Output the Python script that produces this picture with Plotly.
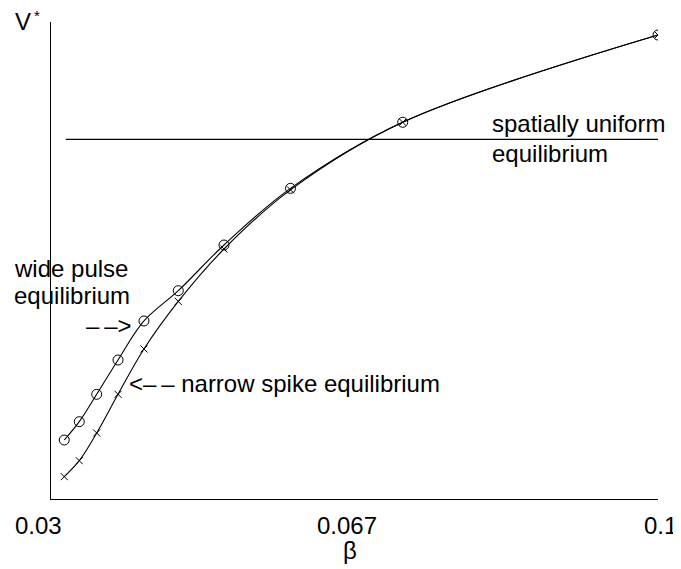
import plotly.graph_objects as go

# beta values of the computed equilibria
beta = [0.03153, 0.03326, 0.03527, 0.03773, 0.04072, 0.04468, 0.04995, 0.05762, 0.07056, 0.1]
# V* of wide pulse equilibrium (circles)
v_wide = [0.1237, 0.1621, 0.2195, 0.2914, 0.3732, 0.4367, 0.5325, 0.6513, 0.7898, 0.9727]
# V* of narrow spike equilibrium (crosses)
v_spike = [0.0468, 0.0803, 0.1384, 0.2195, 0.3145, 0.4143, 0.5241, 0.6480, 0.7898, 0.9727]
# spatially uniform equilibrium level
uniform_beta = [0.0317, 0.1]
uniform_v = [0.754, 0.754]

tick_labels = ["0.03", "0.067", "0.1"]

FONT = "Liberation Sans, Arial, sans-serif"
FS = 24

fig = go.Figure()
fig.add_trace(go.Scatter(x=uniform_beta, y=uniform_v, mode="lines",
                         line=dict(color="black", width=1.2), showlegend=False))
fig.add_trace(go.Scatter(x=beta, y=v_wide, mode="lines+markers",
                         line=dict(color="black", width=1.1, shape="spline", smoothing=1),
                         marker=dict(symbol="circle-open", size=10, color="black", line=dict(width=1)),
                         showlegend=False))
fig.add_trace(go.Scatter(x=beta, y=v_spike, mode="lines+markers",
                         line=dict(color="black", width=1.1, shape="spline", smoothing=1),
                         marker=dict(symbol="x-thin", size=7, color="black", line=dict(width=1, color="black")),
                         showlegend=False))

OFF = 8  # page body margin
W, H = 681 - OFF, 569 - OFF
# plot area in page pixels: left 51, right 658, top 22, bottom 499
L, R, T, B = 51 - OFF, 681 - 658, 22 - OFF, 569 - 499
pw, ph = W - L - R, H - T - B

def px(x):
    return (x - OFF - L) / pw

def py(y):
    return (H - B - (y - OFF)) / ph

def label(text, x, y, xanchor="left", size=FS):
    return dict(text=text, x=px(x), y=py(y), xref="paper", yref="paper",
                xanchor=xanchor, yanchor="middle", showarrow=False,
                font=dict(size=size))

HS = "\u2009"
ann = []
tick_px = [38, 347, 660]
for t, xp in zip(tick_labels, tick_px):
    ann.append(label(t, xp, 525, "center"))
ann += [
    label("β", 350, 550, "center"),
    label("V", 13, 21),
    label("*", 32, 15, size=15),
    label("wide pulse", 12, 268),
    label("equilibrium", 12, 295),
    label("–" + HS + "–" + ">", 134, 325, "right"),
    label("<" + "–" + HS + "–" + " narrow spike equilibrium", 127, 383),
    label("spatially uniform", 490, 123),
    label("equilibrium", 490, 153),
]

fig.update_layout(
    width=W, height=H,
    margin=dict(l=L, r=R, t=T, b=B, pad=0),
    paper_bgcolor="white", plot_bgcolor="white",
    font=dict(family=FONT, size=FS, color="black"),
    annotations=ann,
    xaxis=dict(range=[0.03, 0.1], showgrid=False, zeroline=False, showticklabels=False,
               ticks="", showline=True, linecolor="black", linewidth=1.2),
    yaxis=dict(range=[0, 1], showgrid=False, zeroline=False, showticklabels=False,
               ticks="", showline=True, linecolor="black", linewidth=1.2),
)

fig.write_html("out.html")
